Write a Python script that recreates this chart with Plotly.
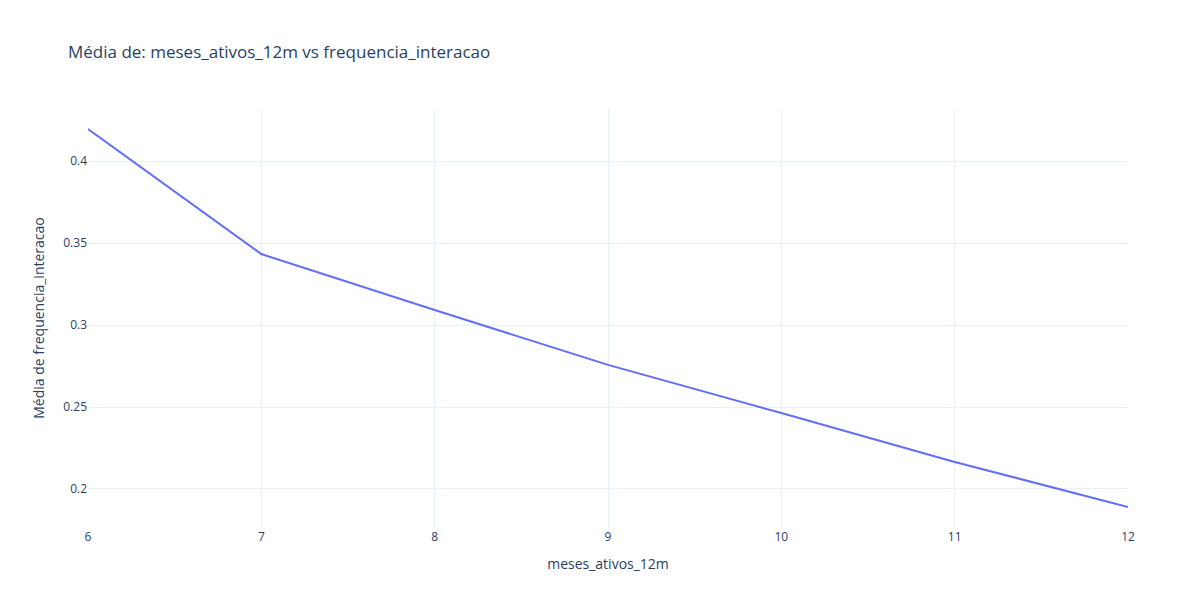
import plotly.graph_objects as go

meses = [6, 7, 8, 9, 10, 11, 12]
media_freq = [0.4196, 0.3433, 0.3092, 0.2757, 0.2463, 0.2165, 0.189]

fig = go.Figure()
fig.add_trace(go.Scatter(x=meses, y=media_freq, mode='lines'))

fig.update_layout(
    template='plotly_white',
    title='Média de: meses_ativos_12m vs frequencia_interacao',
    xaxis_title='meses_ativos_12m',
    yaxis_title='Média de frequencia_interacao',
    width=1200,
    height=600,
)

fig.write_html("out.html")
